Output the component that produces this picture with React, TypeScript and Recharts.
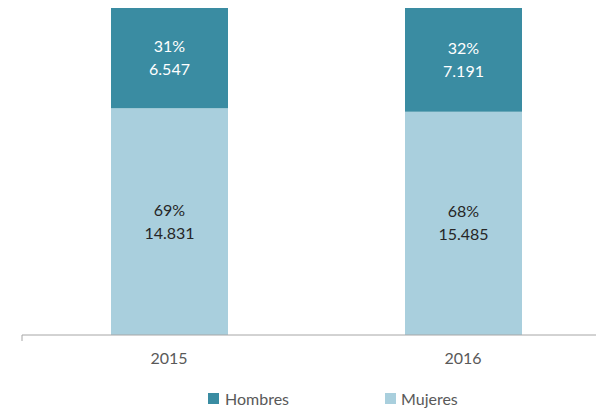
import React from "react";
import { BarChart, Bar, XAxis, YAxis, LabelList, Legend } from "recharts";

const years = ["2015", "2016"];
const mujeres = [14831, 15485];
const hombres = [6547, 7191];
const mujeresPct = [69, 68];
const hombresPct = [31, 32];

const data = years.map((y, i) => ({
  year: y,
  Mujeres: mujeres[i],
  Hombres: hombres[i],
}));

const FONT = "Lato, 'Open Sans', sans-serif";
const fmt = (v: number) => v.toLocaleString("de-DE");

const makeLabel = (pcts: number[], vals: number[], color: string) => (props: any) => {
  const { x, y, width, height, index } = props;
  const cx = x + width / 2;
  const cy = y + height / 2;
  return (
    <text x={cx} y={cy} textAnchor="middle" fill={color} fontSize={16} fontFamily={FONT}>
      <tspan x={cx} dy={-6}>{pcts[index]}%</tspan>
      <tspan x={cx} dy={23}>{fmt(vals[index])}</tspan>
    </text>
  );
};

const LegendContent = () => (
  <div style={{ position: "relative", height: 35, fontFamily: FONT, fontSize: 16, color: "#595959" }}>
    <div style={{ position: "absolute", left: 186, top: 14, display: "flex", alignItems: "center" }}>
      <span style={{ width: 11, height: 11, background: "#3A8CA2", display: "inline-block", marginRight: 6 }} />
      <span>Hombres</span>
    </div>
    <div style={{ position: "absolute", left: 363, top: 14, display: "flex", alignItems: "center" }}>
      <span style={{ width: 11, height: 11, background: "#A9CFDD", display: "inline-block", marginRight: 5 }} />
      <span>Mujeres</span>
    </div>
  </div>
);

export default function App() {
  return (
    <div style={{ width: 596, height: 402, overflow: "hidden" }}>
      <BarChart
        width={602}
        height={402}
        data={data}
        stackOffset="expand"
        margin={{ top: 0, right: 0, bottom: 0, left: 14 }}
      >
        <XAxis
          xAxisId="a"
          type="number"
          domain={[0, 2]}
          ticks={[0, 1, 2]}
          interval={0}
          height={1}
          tick={{ fill: "none", fontSize: 1 }}
          tickFormatter={() => ""}
          tickSize={6}
          axisLine={{ stroke: "#A6A6A6" }}
          tickLine={{ stroke: "#A6A6A6" }}
          allowDataOverflow
        />
        <XAxis
          xAxisId="b"
          dataKey="year"
          height={39}
          axisLine={false}
          tickLine={false}
          tick={{ fill: "#595959", fontSize: 16, fontFamily: FONT }}
          tickMargin={11}
        />
        <YAxis hide domain={[0, 1]} />
        <Legend verticalAlign="bottom" height={35} content={<LegendContent />} />
        <Bar xAxisId="b" dataKey="Mujeres" stackId="s" fill="#A9CFDD" barSize={117} isAnimationActive={false} legendType="none">
          <LabelList content={makeLabel(mujeresPct, mujeres, "#262626")} />
        </Bar>
        <Bar xAxisId="b" dataKey="Hombres" stackId="s" fill="#3A8CA2" barSize={117} isAnimationActive={false} legendType="none">
          <LabelList content={makeLabel(hombresPct, hombres, "#FFFFFF")} />
        </Bar>
      </BarChart>
    </div>
  );
}
